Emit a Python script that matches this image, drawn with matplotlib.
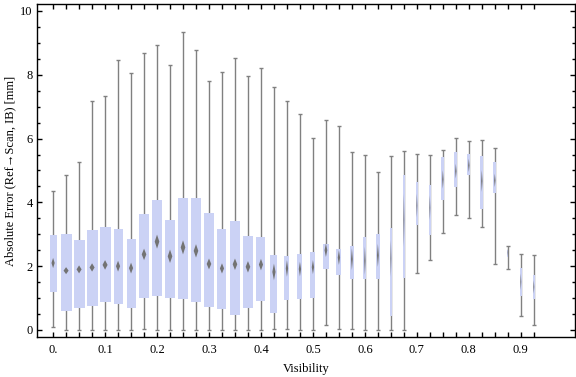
import numpy as np
import matplotlib
matplotlib.use('Agg')
import matplotlib.pyplot as plt

plt.rcParams['font.family'] = ['Liberation Serif', 'DejaVu Serif']

# visibility bins
visibility = [0.0, 0.025, 0.05, 0.075, 0.1, 0.125, 0.15, 0.175, 0.2, 0.225,
              0.25, 0.275, 0.3, 0.325, 0.35, 0.375, 0.4, 0.425, 0.45, 0.475,
              0.5, 0.525, 0.55, 0.575, 0.6, 0.625, 0.65, 0.675, 0.7, 0.725,
              0.75, 0.775, 0.8, 0.825, 0.85, 0.875, 0.9, 0.925]

whisk_hi = [4.36, 4.86, 5.27, 7.19, 7.33, 8.46, 8.06, 8.68, 8.94, 8.31,
            9.33, 8.77, 7.80, 8.09, 8.52, 7.96, 8.21, 7.61, 7.19, 6.77,
            6.02, 6.58, 6.40, 5.58, 5.50, 4.94, 5.44, 5.62, 5.52, 5.50,
            5.65, 6.02, 5.93, 5.96, 5.71, 2.62, 2.37, 2.34]
whisk_lo = [0.08, 0.0, 0.0, 0.0, 0.0, 0.0, 0.0, 0.03, 0.0, 0.0,
            0.0, 0.0, 0.0, 0.0, 0.0, 0.0, 0.0, 0.03, 0.03, 0.0,
            0.0, 0.15, 0.04, 0.04, 0.01, 0.0, 0.0, 0.0, 1.80, 2.18,
            3.05, 3.61, 3.52, 3.23, 2.08, 1.92, 0.45, 0.17]
q3 = [2.97, 3.00, 2.81, 3.13, 3.22, 3.16, 2.84, 3.63, 4.09, 3.44,
      4.13, 4.13, 3.66, 3.16, 3.41, 2.94, 2.91, 2.34, 2.31, 2.38,
      2.44, 2.70, 2.54, 2.63, 2.92, 3.01, 3.21, 4.86, 4.65, 4.56,
      5.41, 5.58, 5.52, 5.44, 5.27, 2.50, 1.95, 1.71]
q1 = [1.20, 0.60, 0.70, 0.76, 0.885, 0.82, 0.70, 1.01, 1.07, 1.01,
      0.98, 0.885, 0.73, 0.67, 0.48, 0.70, 0.92, 0.54, 0.95, 0.98,
      1.01, 1.92, 1.73, 1.60, 1.60, 1.60, 0.45, 1.64, 3.29, 2.97,
      4.09, 4.48, 4.86, 3.80, 4.30, 2.29, 1.08, 0.96]
mean = [2.10, 1.86, 1.90, 1.96, 2.04, 2.00, 1.94, 2.37, 2.77, 2.31,
        2.59, 2.48, 2.07, 1.93, 2.06, 1.98, 2.05, 1.82, 1.93, 1.91,
        1.97, 2.50, 2.27, 2.22, 2.17, 2.34, 2.24, 3.44, 3.90, 3.83,
        4.72, 4.98, 5.16, 4.67, 4.69, 2.43, 1.51, 1.35]
mean_ci = [0.16, 0.11, 0.125, 0.13, 0.15, 0.17, 0.17, 0.18, 0.22, 0.21,
           0.22, 0.21, 0.17, 0.16, 0.18, 0.18, 0.18, 0.26, 0.26, 0.23,
           0.22, 0.21, 0.23, 0.34, 0.44, 0.36, 0.57, 0.83, 0.37, 0.39,
           0.29, 0.23, 0.21, 0.34, 0.21, 0.13, 0.26, 0.21]
# relative sample size -> box width
rel_n = [7, 11, 11, 11, 11, 9, 9, 10, 10, 10,
         10, 10, 10, 9, 10, 10, 9, 7, 5, 5,
         5, 6, 5, 4, 3, 4, 2, 2, 2, 2,
         3, 3, 3, 3, 3, 1, 2, 2]

x = np.array(visibility)
w = np.array(rel_n) / 11.0 * 0.0212
gray = '#808080'
boxc = '#CBD2F5'

fig = plt.figure(figsize=(5.76, 3.77), dpi=100)
ax = fig.add_axes([0.0642, 0.1061, 0.9338, 0.8825])

cap = 0.0037
ax.vlines(x, whisk_lo, whisk_hi, color=gray, lw=1.0, zorder=1)
ax.hlines(whisk_hi, x - cap, x + cap, color=gray, lw=1.0, zorder=1)
ax.hlines(whisk_lo, x - cap, x + cap, color=gray, lw=1.0, zorder=1)
ax.bar(x, np.array(q3) - np.array(q1), bottom=q1, width=w, color=boxc,
       linewidth=0, zorder=2)

for xi, wi, m, c in zip(x, w, mean, mean_ci):
    hw = wi * 0.23
    ax.fill([xi - hw, xi, xi + hw, xi], [m, m + c, m, m - c],
            color='#737373', lw=0, zorder=3)

ax.set_xlim(-0.031, 1.004)
ax.set_ylim(-0.22, 10.21)
ax.set_xticks([0, 0.1, 0.2, 0.3, 0.4, 0.5, 0.6, 0.7, 0.8, 0.9])
ax.set_xticklabels(['0.', '0.1', '0.2', '0.3', '0.4', '0.5', '0.6', '0.7', '0.8', '0.9'])
ax.set_xticks(visibility, minor=True)
ax.set_yticks([0, 2, 4, 6, 8, 10])
ax.set_yticks(np.arange(0, 10.01, 0.5), minor=True)

ax.tick_params(which='both', direction='in', top=True, right=True,
               labelsize=9, width=1.0, color='black')
ax.tick_params(axis='x', which='both', length=3.6, pad=5)
ax.tick_params(axis='y', which='major', length=3.6, pad=3)
ax.tick_params(axis='y', which='minor', length=2.2)
for s in ax.spines.values():
    s.set_linewidth(1.0)

ax.set_xlabel('Visibility', fontsize=9, labelpad=5)
ax.set_ylabel('Absolute Error (Ref\u2192Scan, IB) [mm]', fontsize=9, labelpad=3)

fig.savefig('out.png', dpi=100)
